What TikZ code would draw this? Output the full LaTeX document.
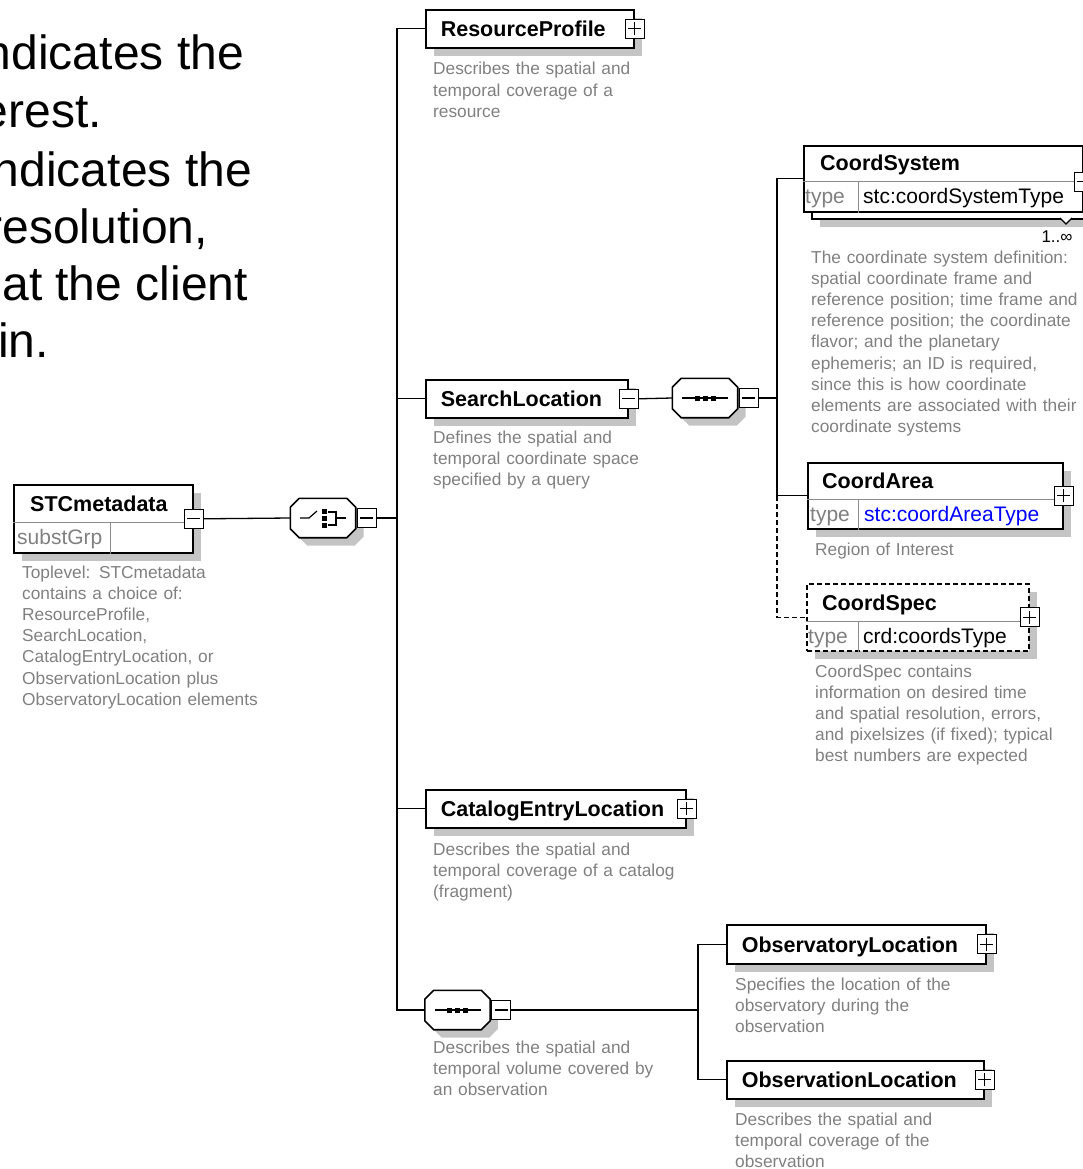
\documentclass[tikz,border=0pt]{standalone}
\usepackage{fontspec}
\setmainfont{Liberation Sans}
\usetikzlibrary{positioning,calc,shadows}

\definecolor{descgray}{RGB}{128,128,128}
\definecolor{shadegray}{RGB}{196,196,196}
\definecolor{typeblue}{RGB}{0,0,255}

\newcommand{\headfont}{\fontsize{21.5}{24}\selectfont\bfseries}
\newcommand{\typefont}{\fontsize{21}{24}\selectfont}
\newcommand{\descfont}{\fontsize{17.3}{21.2}\selectfont}
\newcommand{\slidefont}{\fontsize{48}{57.4}\selectfont}

% octagon frame with shadow round a compositor node
\newcommand{\compframe}[1]{%
  \fill[shadegray] ($(#1.north west)+(17,8)$) -- ($(#1.north east)+(-1,8)$) -- ($(#1.north east)+(8,17)$)
    -- ($(#1.south east)+(8,-1)$) -- ($(#1.south east)+(-1,8)$) -- ($(#1.south west)+(17,8)$)
    -- ($(#1.south west)+(8,-1)$) -- ($(#1.north west)+(8,17)$) -- cycle;
  \draw[line width=1.6pt, fill=white] ($(#1.north west)+(9,0)$) -- ($(#1.north east)+(-9,0)$) -- ($(#1.north east)+(0,9)$)
    -- ($(#1.south east)+(0,-9)$) -- ($(#1.south east)+(-9,0)$) -- ($(#1.south west)+(9,0)$)
    -- ($(#1.south west)+(0,-9)$) -- ($(#1.north west)+(0,9)$) -- cycle;}

\tikzset{
  boxshadow/.style={drop shadow={shadow xshift=8pt,shadow yshift=-8pt,fill=shadegray,opacity=1}},
  box/.style={draw, line width=1.6pt, fill=white, anchor=north west, inner sep=0pt},
  elem/.style={box, boxshadow, minimum height=38pt, inner xsep=15pt, text height=17pt, text depth=1.6pt, align=left, font=\headfont},
  pmbox/.style={draw, solid, fill=white, line width=1.2pt, minimum size=19pt, inner sep=0pt},
  minusbox/.style={pmbox, path picture={
      \draw[line width=1.2pt] ([xshift=3pt]path picture bounding box.west) -- ([xshift=-3pt]path picture bounding box.east);}},
  plusbox/.style={pmbox, path picture={
      \draw[line width=1.2pt] ([xshift=3pt]path picture bounding box.west) -- ([xshift=-3pt]path picture bounding box.east);
      \draw[line width=1.2pt] ([yshift=-3pt]path picture bounding box.north) -- ([yshift=3pt]path picture bounding box.south);}},
  compositor/.style={rectangle, minimum width=65pt, minimum height=39pt, inner sep=0pt},
  conn/.style={line width=1.3pt},
  optional/.style={dash pattern=on 5pt off 3pt},
  rowline/.style={line width=1pt, draw=black!45, solid},
  desc/.style={anchor=base west, inner sep=0pt, align=left, text width=290pt, font=\descfont, text=descgray},
  head/.style={anchor=base west, inner sep=0pt, font=\headfont},
  typelbl/.style={anchor=base west, inner sep=0pt, font=\typefont, text=descgray},
  typename/.style={anchor=base west, inner sep=0pt, font=\typefont},
  slide/.style={anchor=base east, inner sep=0pt, font=\slidefont},
}

\begin{document}
\begin{tikzpicture}[x=1pt,y=-1pt]
  \useasboundingbox (0,0) rectangle (1083,1169);

  % slide text, cut at the left edge
  \node[slide] (s1) at (244,70) {ndicates the};
  \node[slide] (s2) at (102,128) {erest.};
  \node[slide] (s3) at (252,186) {ndicates the};
  \node[slide] (s4) at (208,243) {resolution,};
  \node[slide] (s5) at (248,300) {at the client};
  \node[slide] (s6) at (49,357) {in.};

  % root element
  \node[box, boxshadow, minimum width=179pt, minimum height=68pt] (stc) at (13,484) {};
  \draw[rowline] ($(stc.north west)+(0,38)$) -- ($(stc.north east)+(0,38)$);
  \draw[rowline] ($(stc.north west)+(97,38)$) -- ($(stc.south west)+(97,0)$);
  \node[head] (stcname) at ($(stc.north west)+(17,27)$) {STCmetadata};
  \node[typelbl] (stcgrp) at ($(stc.north west)+(4,60)$) {substGrp};
  \node[minusbox] (stcpm) at (stc.east) {};
  \node[desc] (stcdesc) at (22,578) {Toplevel: STCmetadata\\contains a choice of:\\ResourceProfile,\\SearchLocation,\\CatalogEntryLocation, or\\ObservationLocation plus\\ObservatoryLocation elements};

  % choice
  \node[compositor] (choice) at (323,518) {};
  \compframe{choice}
  \node[minusbox, right=1pt of choice] (chpm) {};
  \begin{scope}[shift={(choice.center)}, line width=1.2pt]
    \draw (-23,0) -- (-14,0) -- (-6,-7);
    \foreach \dy in {-7,0,7}
      \fill (-1,\dy-2.5) rectangle (4,\dy+2.5);
    \draw (5,-6) -- (13,-6) -- (13,7) -- (5,7);
    \draw (13,0) -- (23,0);
  \end{scope}
  \coordinate (bus1) at (397,518);

  % children of the choice
  \node[elem, text width=178pt] (rp) at (425,9) {ResourceProfile};
  \node[plusbox] (rppm) at (rp.east) {};
  \node[desc] (rpdesc) at (433,75) {Describes the spatial and\\temporal coverage of a\\resource};

  \node[elem, text width=172pt] (sl) at (425,379) {SearchLocation};
  \node[minusbox] (slpm) at (sl.east) {};
  \node[desc] (sldesc) at (433,443) {Defines the spatial and\\temporal coordinate space\\specified by a query};

  \node[elem, text width=230pt] (cel) at (425,789) {CatalogEntryLocation};
  \node[plusbox] (celpm) at (cel.east) {};
  \node[desc] (celdesc) at (433,855) {Describes the spatial and\\temporal coverage of a catalog\\(fragment)};

  \node[compositor] (seqb) at (457.5,1010) {};
  \compframe{seqb}
  \node[minusbox, right=1pt of seqb] (sbpm) {};
  \begin{scope}[shift={(seqb.center)}, line width=1.2pt]
    \draw (-23,0) -- (23,0);
    \foreach \dx in {-8,0,8}
      \fill (\dx-2.5,-2.5) rectangle (\dx+2.5,2.5);
  \end{scope}
  \node[desc] (seqbdesc) at (433,1053) {Describes the spatial and\\temporal volume covered by\\an observation};

  \draw[conn] (stcpm.east) -- (choice.west);
  \draw[conn] (chpm.east) -- (bus1);
  \draw[conn] (rp.west) -| (bus1) |- (seqb.west);
  \draw[conn] (bus1) |- (sl.west);
  \draw[conn] (bus1) |- (cel.west);

  % sequence of SearchLocation
  \node[compositor] (seqs) at (705,398) {};
  \compframe{seqs}
  \node[minusbox, right=1pt of seqs] (sqpm) {};
  \begin{scope}[shift={(seqs.center)}, line width=1.2pt]
    \draw (-23,0) -- (23,0);
    \foreach \dx in {-8,0,8}
      \fill (\dx-2.5,-2.5) rectangle (\dx+2.5,2.5);
  \end{scope}
  \coordinate (bus2) at (777,398);
  \draw[conn] (slpm.east) -- (seqs.west);
  \draw[conn] (sqpm.east) -- (bus2);

  % CoordSystem (1..inf)
  \node[box, boxshadow, minimum width=279pt, minimum height=66pt] (csysbk) at (811,152) {};
  \node[box, minimum width=279pt, minimum height=66pt] (csys) at (803,145) {};
  \draw[rowline] ($(csys.north west)+(0,37)$) -- ($(csys.north east)+(0,37)$);
  \draw[rowline] ($(csys.north west)+(55,37)$) -- ($(csys.south west)+(55,0)$);
  \node[head] (csysname) at ($(csys.north west)+(17,26)$) {CoordSystem};
  \node[typelbl] (csystl) at ($(csys.north west)+(2,59)$) {type};
  \node[typename] (csystn) at ($(csys.north west)+(60,59)$) {stc:coordSystemType};
  \node[plusbox] (csyspm) at ($(csys.east)+(0,3)$) {};
  \draw[line width=1.2pt, fill=white] (1060,218) -- (1066,224) -- (1072,218);
  \node[inner sep=0pt, font=\fontsize{17}{20}\selectfont] (csysocc) at (1057,237) {1..∞};
  \node[desc] (csysdesc) at (811,263) {The coordinate system definition:\\spatial coordinate frame and\\reference position; time frame and\\reference position; the coordinate\\flavor; and the planetary\\ephemeris; an ID is required,\\since this is how coordinate\\elements are associated with their\\coordinate systems};

  % CoordArea
  \node[box, boxshadow, minimum width=255pt, minimum height=66pt] (carea) at (807,462) {};
  \draw[rowline] ($(carea.north west)+(0,37)$) -- ($(carea.north east)+(0,37)$);
  \draw[rowline] ($(carea.north west)+(51,37)$) -- ($(carea.south west)+(51,0)$);
  \node[head] (careaname) at ($(carea.north west)+(15,26)$) {CoordArea};
  \node[typelbl] (careatl) at ($(carea.north west)+(3,59)$) {type};
  \node[typename, text=typeblue] (careatn) at ($(carea.north west)+(57,59)$) {stc:coordAreaType};
  \node[plusbox] (careapm) at (carea.east) {};
  \node[desc] (careadesc) at (815,555) {Region of Interest};

  % CoordSpec (optional)
  \node[box, boxshadow, optional, minimum width=222pt, minimum height=67pt] (cspec) at (806,583) {};
  \draw[rowline] ($(cspec.north west)+(0,38)$) -- ($(cspec.north east)+(0,38)$);
  \draw[rowline] ($(cspec.north west)+(52,38)$) -- ($(cspec.south west)+(52,0)$);
  \node[head] (cspecname) at ($(cspec.north west)+(16,27)$) {CoordSpec};
  \node[typelbl] (cspectl) at ($(cspec.north west)+(2,60)$) {type};
  \node[typename] (cspectn) at ($(cspec.north west)+(57,60)$) {crd:coordsType};
  \node[plusbox] (cspecpm) at (cspec.east) {};
  \node[desc] (cspecdesc) at (815,677) {CoordSpec contains\\information on desired time\\and spatial resolution, errors,\\and pixelsizes (if fixed); typical\\best numbers are expected};

  \draw[conn] (csys.west) -| (bus2) |- (carea.west);
  \draw[conn, optional] (carea.west -| bus2) |- (cspec.west);

  % sequence of observation
  \coordinate (bus3) at (698,1010);
  \node[elem, text width=229pt, minimum height=39pt] (obsy) at (726,924) {ObservatoryLocation};
  \node[plusbox] (obsypm) at (obsy.east) {};
  \node[desc] (obsydesc) at (735,990) {Specifies the location of the\\observatory during the\\observation};
  \node[elem, text width=227pt] (obsn) at (726,1060) {ObservationLocation};
  \node[plusbox] (obsnpm) at (obsn.east) {};
  \node[desc] (obsndesc) at (735,1125) {Describes the spatial and\\temporal coverage of the\\observation};
  \draw[conn] (sbpm.east) -- (bus3);
  \draw[conn] (obsy.west) -| (bus3) |- (obsn.west);
\end{tikzpicture}
\end{document}
